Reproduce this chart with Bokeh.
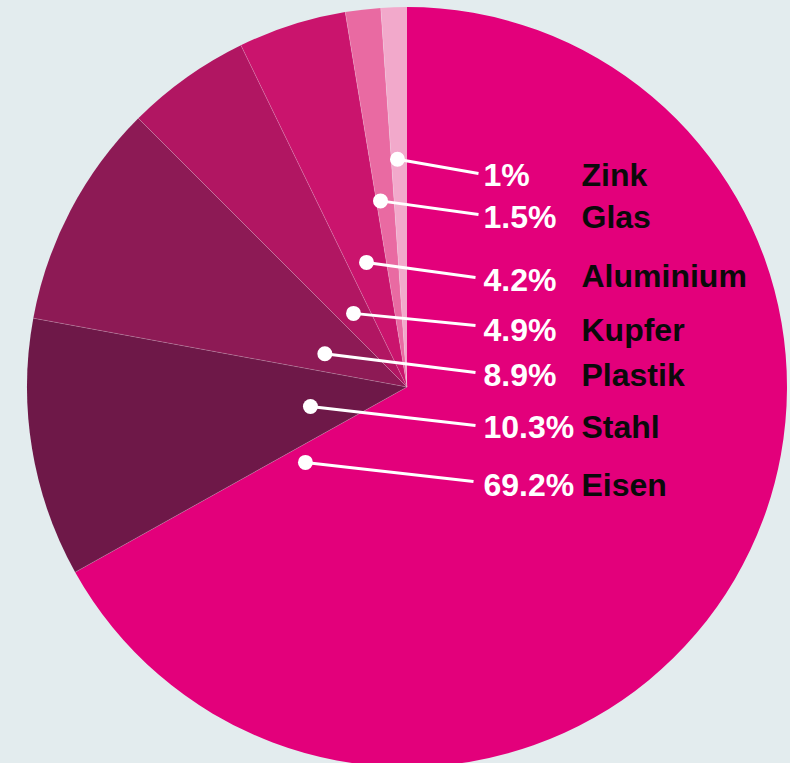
import math
from bokeh.plotting import figure
from bokeh.models import Range1d, ColumnDataSource
from bokeh.embed import file_html
from bokeh.resources import INLINE
from bokeh.core.properties import value

# ---- data ----
materials = ["Eisen", "Stahl", "Plastik", "Kupfer", "Aluminium", "Glas", "Zink"]
pct_labels = ["69.2%", "10.3%", "8.9%", "4.9%", "4.2%", "1.5%", "1%"]
shares = [66.9, 11.0, 9.6, 5.3, 4.6, 1.5, 1.1]  # drawn slice shares

# ---- style / layout ----
colors = ["#E3007B", "#6E1848", "#8D1A55", "#B11662", "#CA146D", "#E96AA2", "#F2A9CB"]
BG = "#E3ECEE"
FONT = "Liberation Sans"
W, H = 790, 763
CX, CY_REF, R = 406.5, 386.5, 380
TEXT_SHIFT = 11  # renderer places alphabetic baseline slightly lower

def yd(y_ref):
    return H - y_ref

# callout layout: dot polar position (clockwise deg from top, radius), line end, baselines
dot_polar = [(233.4, 126.5), (258.6, 98.5), (292.0, 88.6), (324.0, 91.0),
             (342.0, 131.0), (351.9, 188.0), (357.6, 228.0)]
line_end = [(473, 481), (475, 425), (475, 372), (475, 325), (475, 277), (478, 214), (478, 173)]
pct_base = [495, 437, 385, 340, 290, 227, 185]
name_base = [495, 437, 385, 340, 286, 227, 185]
PCT_X, NAME_X = 483, 581

p = figure(width=W, height=H, x_range=Range1d(0, W), y_range=Range1d(0, H),
           output_backend="svg", toolbar_location=None, min_border=0,
           background_fill_color=BG, border_fill_color=BG, outline_line_color=None)
p.axis.visible = False
p.grid.visible = False

# wedges, clockwise from top
tot = sum(shares)
starts, ends = [], []
cum = 0.0
for s in shares:
    a0 = math.pi / 2 - 2 * math.pi * cum / tot
    cum += s
    a1 = math.pi / 2 - 2 * math.pi * cum / tot
    starts.append(a1)
    ends.append(a0)

src = ColumnDataSource(dict(start=starts, end=ends, color=colors, name=materials))
p.wedge(x=CX, y=yd(CY_REF), radius=R, start_angle="start", end_angle="end",
        direction="anticlock", fill_color="color", line_color=None, source=src)

# faint separators
bx, by = [], []
for a in ends[1:]:
    bx.append([CX, CX + R * math.cos(a)])
    by.append([yd(CY_REF), yd(CY_REF) + R * math.sin(a)])
p.multi_line(xs=bx, ys=by, line_color="white", line_alpha=0.25, line_width=0.8)

# callouts
dx, dy, lx, ly = [], [], [], []
for (ang, rr), (ex, ey) in zip(dot_polar, line_end):
    t = math.radians(ang)
    x0 = CX + rr * math.sin(t)
    y0 = yd(CY_REF) + rr * math.cos(t)
    dx.append(x0); dy.append(y0)
    lx.append([x0, ex]); ly.append([y0, yd(ey)])
p.multi_line(xs=lx, ys=ly, line_color="white", line_width=3)
p.scatter(x=dx, y=dy, size=15, marker="circle", fill_color="white", line_color=None)

p.text(x=[PCT_X] * len(pct_labels), y=[yd(b - TEXT_SHIFT) for b in pct_base], text=pct_labels,
       text_font=value(FONT), text_font_style="bold", text_font_size="32px",
       text_color="white", text_baseline="alphabetic", text_align="left")
p.text(x=[NAME_X] * len(materials), y=[yd(b - TEXT_SHIFT) for b in name_base], text=materials,
       text_font=value(FONT), text_font_style="bold", text_font_size="32px",
       text_color="#0A0A0A", text_baseline="alphabetic", text_align="left")

html = file_html(p, INLINE)
html = html.replace("</head>", "<style>body{background:%s;}</style></head>" % BG, 1)
open("out.html", "w").write(html)
